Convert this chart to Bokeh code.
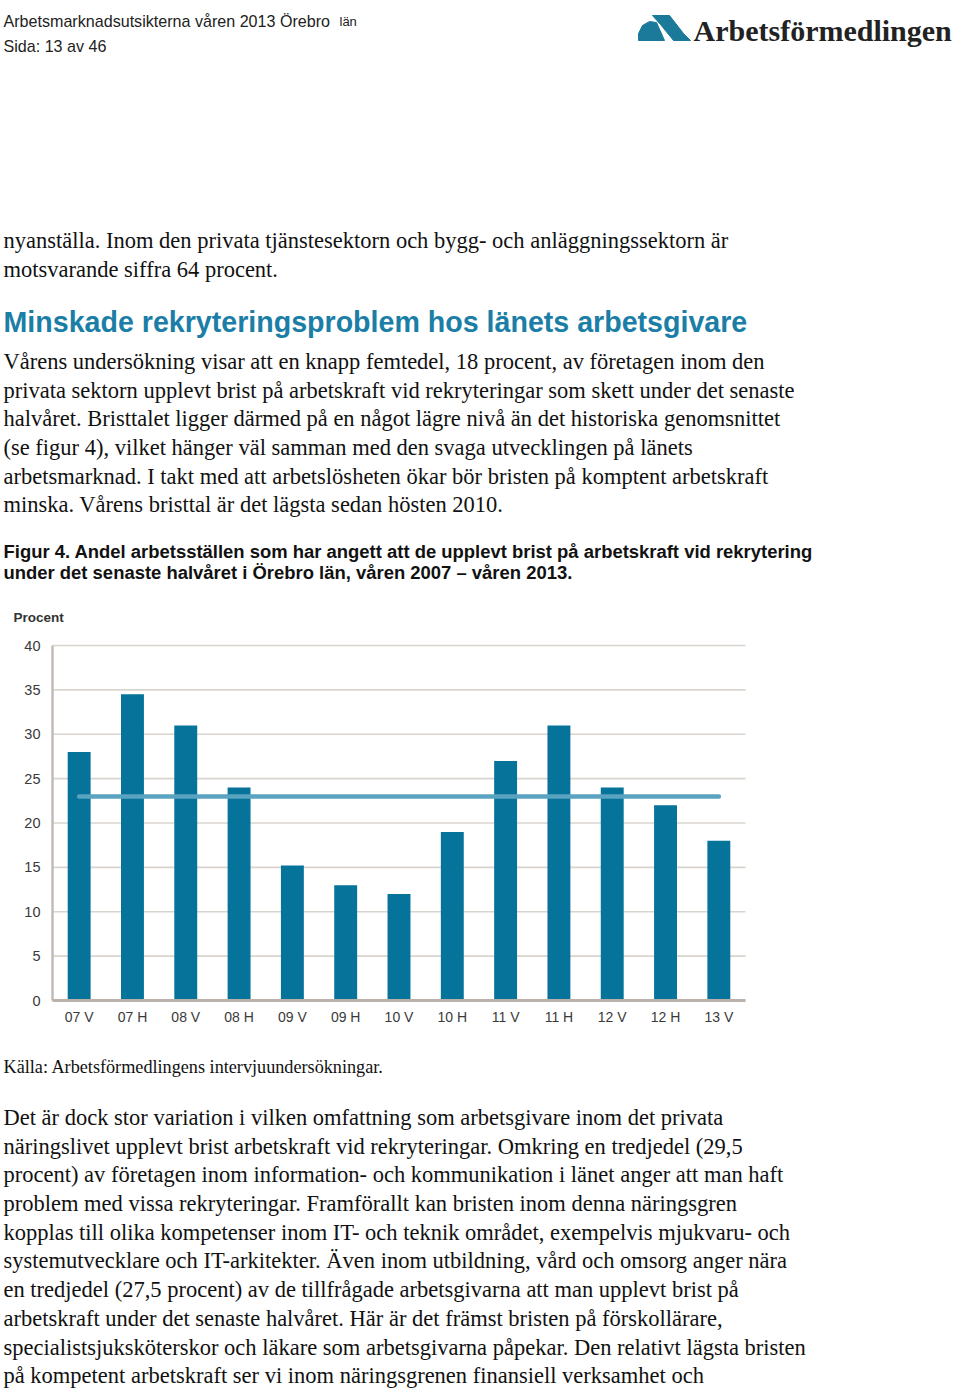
from bokeh.plotting import figure
from bokeh.models import Range1d
from bokeh.core.properties import value
from bokeh.embed import file_html
from bokeh.resources import INLINE

# ---------------- chart data ----------------
categories = ["07 V", "07 H", "08 V", "08 H", "09 V", "09 H", "10 V",
              "10 H", "11 V", "11 H", "12 V", "12 H", "13 V"]
shares = [28, 34.5, 31, 24, 15.2, 13, 12, 19, 27, 31, 24, 22, 18]
average = [23, 23]
y_ticks = [0, 5, 10, 15, 20, 25, 30, 35, 40]
y_axis_title = "Procent"

# ---------------- page texts ----------------
header_lines = ["Arbetsmarknadsutsikterna våren 2013 Örebro", "Sida: 13 av 46"]
header_small = "län"
logo_text = "Arbetsförmedlingen"
intro_lines = [
    "nyanställa. Inom den privata tjänstesektorn och bygg- och anläggningssektorn är",
    "motsvarande siffra 64 procent.",
]
heading = "Minskade rekryteringsproblem hos länets arbetsgivare"
para_lines = [
    "Vårens undersökning visar att en knapp femtedel, 18 procent, av företagen inom den",
    "privata sektorn upplevt brist på arbetskraft vid rekryteringar som skett under det senaste",
    "halvåret. Bristtalet ligger därmed på en något lägre nivå än det historiska genomsnittet",
    "(se figur 4), vilket hänger väl samman med den svaga utvecklingen på länets",
    "arbetsmarknad. I takt med att arbetslösheten ökar bör bristen på komptent arbetskraft",
    "minska. Vårens bristtal är det lägsta sedan hösten 2010.",
]
caption_lines = [
    "Figur 4. Andel arbetsställen som har angett att de upplevt brist på arbetskraft vid rekrytering",
    "under det senaste halvåret i Örebro län, våren 2007 – våren 2013.",
]
source_text = "Källa: Arbetsförmedlingens intervjuundersökningar."
bottom_lines = [
    "Det är dock stor variation i vilken omfattning som arbetsgivare inom det privata",
    "näringslivet upplevt brist arbetskraft vid rekryteringar. Omkring en tredjedel (29,5",
    "procent) av företagen inom information- och kommunikation i länet anger att man haft",
    "problem med vissa rekryteringar. Framförallt kan bristen inom denna näringsgren",
    "kopplas till olika kompetenser inom IT- och teknik området, exempelvis mjukvaru- och",
    "systemutvecklare och IT-arkitekter. Även inom utbildning, vård och omsorg anger nära",
    "en tredjedel (27,5 procent) av de tillfrågade arbetsgivarna att man upplevt brist på",
    "arbetskraft under det senaste halvåret. Här är det främst bristen på förskollärare,",
    "specialistsjuksköterskor och läkare som arbetsgivarna påpekar. Den relativt lägsta bristen",
    "på kompetent arbetskraft ser vi inom näringsgrenen finansiell verksamhet och",
]

SERIF = "Liberation Serif"
SANS = "Liberation Sans"

W, H = 960, 1388
FL, FR, FT, FB = 52, 745, 645, 1000   # chart plot-area edges in page pixels
YMIN, YMAX = 0, 40

xpos = list(range(len(categories)))
x_lo, x_hi = -0.5, len(categories) - 0.5

# page figure: its frame is the whole page, page pixels as data
p = figure(width=W, height=H, x_range=Range1d(0, W), y_range=Range1d(H, 0),
           x_axis_type=None, y_axis_type=None, output_backend="svg",
           toolbar_location=None, min_border=0)
p.grid.visible = False
p.outline_line_color = None
p.background_fill_color = "white"
p.border_fill_color = "white"

# chart scales mapped onto the chart's area of the page
kx = (x_hi - x_lo) / (FR - FL)
ky = (YMAX - YMIN) / (FB - FT)
p.extra_x_ranges = {"chart": Range1d(x_lo - FL * kx, x_hi + (W - FR) * kx)}
p.extra_y_ranges = {"chart": Range1d(YMIN - (H - FB) * ky, YMAX + FT * ky)}
C = dict(x_range_name="chart", y_range_name="chart")

# gridlines
p.segment(x0=[x_lo] * len(y_ticks), x1=[x_hi] * len(y_ticks), y0=y_ticks, y1=y_ticks,
          line_color="#dad4ce", line_width=1.6, **C)
# bars + average line
p.vbar(x=xpos, top=shares, bottom=YMIN, width=0.43, fill_color="#05739a",
       line_color=None, **C)
p.line(x=[xpos[0], xpos[-1]], y=average, line_width=4.5, line_color="#5aa3c1",
       line_cap="round", **C)
# axis lines
p.segment(x0=[x_lo], x1=[x_lo], y0=[YMIN], y1=[YMAX], line_color="#c2bbb4",
          line_width=2.5, **C)
p.segment(x0=[x_lo], x1=[x_hi], y0=[YMIN], y1=[YMIN], line_color="#bab2aa",
          line_width=3, **C)
# tick labels
p.text(x=[x_lo] * len(y_ticks), y=y_ticks, text=[str(t) for t in y_ticks],
       x_offset=-12, text_align="right", text_baseline="middle",
       text_font=value(SANS), text_font_size="14.5px", text_color="#3a3a3a", **C)
p.text(x=xpos, y=[YMIN] * len(xpos), text=categories, y_offset=16,
       text_align="center", text_baseline="middle",
       text_font=value(SANS), text_font_size="14px", text_color="#3a3a3a", **C)


def put(x, ys, lines, font, size, color="#111111", style="normal"):
    p.text(x=[x] * len(lines), y=ys, text=lines, text_font=value(font),
           text_font_size=size, text_color=color, text_font_style=style,
           text_baseline="middle", text_align="left")


# header
put(3, [20, 45], header_lines, SANS, "16.1px", "#222222")
put(339, [21], [header_small], SANS, "13px", "#222222")
# logo mark and name
p.patches(xs=[[638, 638, 642, 649, 656, 664], [652, 669, 683, 690, 673, 660]],
          ys=[[40, 33, 25, 21, 22, 40], [15, 15, 33, 40, 40, 24]],
          fill_color="#1b7a99", line_color="#1b7a99")
put(693, [30], [logo_text], SERIF, "30px", "#222222", "bold")

# body above chart
put(3, [240, 269], intro_lines, SERIF, "22.5px")
put(3, [321], [heading], SANS, "28.6px", "#1b7ea6", "bold")
put(3, [361, 390, 418, 447, 476, 504], para_lines, SERIF, "22.5px")
put(3, [551, 572], caption_lines, SANS, "18.45px", "#111111", "bold")
put(13, [617], [y_axis_title], SANS, "13.5px", "#333333", "bold")

# below chart
put(3, [1066], [source_text], SERIF, "18.2px")
put(3, [1117, 1146, 1174, 1203, 1232, 1260, 1289, 1318, 1347, 1375],
    bottom_lines, SERIF, "22.5px")

open("out.html", "w").write(file_html(p, INLINE))
